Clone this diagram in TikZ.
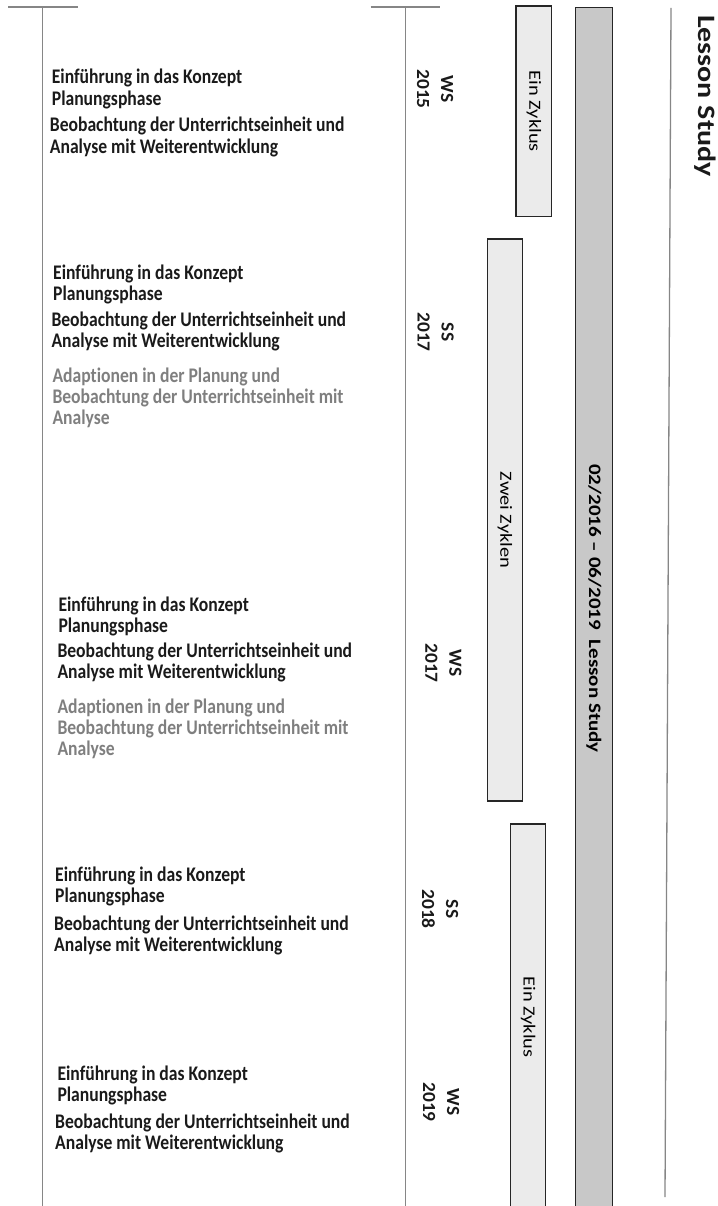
\documentclass[tikz,border=0pt]{standalone}
\usepackage{fontspec}
\setmainfont{Carlito}[Ligatures=NoCommon]
\definecolor{linegray}{HTML}{868686}
\definecolor{boxline}{HTML}{262626}
\definecolor{boxfill}{HTML}{EBEBEB}
\definecolor{barfill}{HTML}{C8C8C8}
\definecolor{textdark}{HTML}{1A1A1A}
\definecolor{textgray}{HTML}{7F7F7F}
\newcommand\lns[1]{\vtop{\halign{##\hfil\cr#1\crcr}}}
\tikzset{
  gline/.style={draw=linegray, line width=1.3pt},
  barbox/.style={draw=boxline, line width=1.3pt, fill=boxfill},
  mainbar/.style={draw=boxline, line width=1.3pt, fill=barfill},
  ptxt/.style={anchor=base west, inner sep=0pt, yscale=1.18, text=textdark,
    font=\bfseries\fontsize{17.6}{18}\selectfont},
  gtxt/.style={ptxt, text=textgray},
  vlab/.style={inner sep=0pt, yscale=1.2, rotate=-90, text=black,
    font=\fontsize{17}{20}\selectfont},
  vlabb/.style={vlab, font=\bfseries\fontsize{17.5}{20}\selectfont},
  semlab/.style={inner sep=0pt, yscale=1.05, rotate=-90, align=center, text=textdark,
    font=\bfseries\fontsize{18.5}{24}\selectfont},
  titlelab/.style={inner sep=0pt, yscale=1.2, rotate=-90, text=textdark,
    font=\bfseries\fontsize{25}{30}\selectfont},
}
\begin{document}
\begin{tikzpicture}[x=1pt,y=-1pt]
\useasboundingbox (0,0) rectangle (717,1206);
% timeline lines
\coordinate (t1a) at (8,7);
\coordinate (t1b) at (78,7);
\coordinate (l1a) at (42.7,7);
\coordinate (l1b) at (42.7,1215);
\coordinate (t2a) at (370.7,7);
\coordinate (t2b) at (440,7);
\coordinate (l2a) at (405.7,7);
\coordinate (l2b) at (405.7,1215);
\coordinate (r1a) at (671,8);
\coordinate (r1b) at (665,1197);
\draw[gline] (t1a) -- (t1b);
\draw[gline] (l1a) -- (l1b);
\draw[gline] (t2a) -- (t2b);
\draw[gline] (l2a) -- (l2b);
\draw[gline] (r1a) -- (r1b);
% bars
\draw[barbox] (516,6) rectangle (551.7,216.7);
\node[vlab] (z1) at (533.9,111.3) {Ein Zyklus};
\draw[barbox] (487.3,239) rectangle (522.3,801);
\node[vlab] (z2) at (504.8,520) {Zwei Zyklen};
\draw[barbox] (510.7,824) rectangle (545.7,1220);
\node[vlab] (z3) at (528.2,1017) {Ein Zyklus};
\draw[mainbar] (575.7,7.3) rectangle (612.3,1220);
\node[vlabb] (ls) at (594,608.5) {02/2016 – 06/2019\ \ Lesson Study};
\node[titlelab] (title) at (705,96) {Lesson Study};
% semester labels
\node[semlab] (s1) at (435,89) {WS\\2015};
\node[semlab] (s2) at (435.5,332) {SS\\2017};
\node[semlab] (s3) at (443.3,663) {WS\\2017};
\node[semlab] (s4) at (440,909) {SS\\2018};
\node[semlab] (s5) at (441,1102) {WS\\2019};
% block 1
\node[ptxt] (p1a) at (51.7,84) {\lns{Einführung in das Konzept\cr Planungsphase}};
\node[ptxt] (p1b) at (49.7,132) {\lns{Beobachtung der Unterrichtseinheit und\cr Analyse mit Weiterentwicklung}};
% block 2
\node[ptxt] (p2a) at (53,279) {\lns{Einführung in das Konzept\cr Planungsphase}};
\node[ptxt] (p2b) at (51.3,326) {\lns{Beobachtung der Unterrichtseinheit und\cr Analyse mit Weiterentwicklung}};
\node[gtxt] (p2c) at (52.3,382) {\lns{Adaptionen in der Planung und\cr Beobachtung der Unterrichtseinheit mit\cr Analyse}};
% block 3
\node[ptxt] (p3a) at (58.3,611.7) {\lns{Einführung in das Konzept\cr Planungsphase}};
\node[ptxt] (p3b) at (57.3,657.3) {\lns{Beobachtung der Unterrichtseinheit und\cr Analyse mit Weiterentwicklung}};
\node[gtxt] (p3c) at (57.3,713.3) {\lns{Adaptionen in der Planung und\cr Beobachtung der Unterrichtseinheit mit\cr Analyse}};
% block 4
\node[ptxt] (p4a) at (55,881.7) {\lns{Einführung in das Konzept\cr Planungsphase}};
\node[ptxt] (p4b) at (54,930) {\lns{Beobachtung der Unterrichtseinheit und\cr Analyse mit Weiterentwicklung}};
% block 5
\node[ptxt] (p5a) at (57.3,1080) {\lns{Einführung in das Konzept\cr Planungsphase}};
\node[ptxt] (p5b) at (55,1128.3) {\lns{Beobachtung der Unterrichtseinheit und\cr Analyse mit Weiterentwicklung}};
\end{tikzpicture}
\end{document}
